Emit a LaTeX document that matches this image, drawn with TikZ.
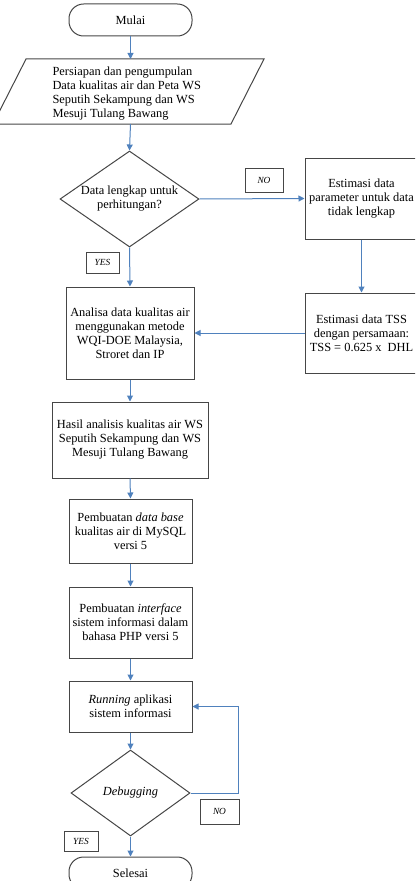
\documentclass[tikz,border=0pt]{standalone}
\usepackage{fontspec}
\setmainfont{Liberation Serif}
\usepackage{tikz}
\usetikzlibrary{shapes.geometric,arrows.meta}
\definecolor{flowblue}{RGB}{79,129,189}
\definecolor{boxgray}{RGB}{70,70,70}
\tikzset{every picture/.style={line width=0.75pt}}
\tikzset{
  boxtext/.style={font=\fontsize{9.3}{10.5}\selectfont, align=center, inner sep=0pt},
  procbox/.style={boxtext, draw=boxgray, rectangle},
  termbox/.style={boxtext, draw=boxgray, rectangle, rounded corners=11pt},
  decbox/.style={boxtext, draw=boxgray, diamond},
  tagbox/.style={draw=boxgray, line width=0.6pt, inner sep=0pt, font=\fontsize{7}{8}\selectfont\itshape},
  flow/.style={draw=flowblue, line width=0.75pt, -{Triangle[length=4.5pt,width=4.5pt]}}
}

\begin{document}
\begin{tikzpicture}[x=0.75pt,y=0.75pt,yscale=-1,xscale=1]
\useasboundingbox (0,0) rectangle (415,881);
\clip (0,0) rectangle (415,881);
%Flowchart: Terminator
\node[termbox, minimum width=92.25pt, minimum height=24pt] (start) at (130.5,20) {Mulai};
%Flowchart: Data
\coordinate (prepNW) at (26,59);
\coordinate (prepNE) at (264,59);
\coordinate (prepSE) at (231,124);
\coordinate (prepSW) at (-7,124);
\draw [boxgray] (prepNW) -- (prepNE) -- (prepSE) -- (prepSW) -- cycle;
% Text Node
\node[boxtext, align=left, anchor=west] (prep) at (52,94) {Persiapan dan pengumpulan\\Data kualitas air dan Peta WS\\Seputih Sekampung dan WS\\Mesuji Tulang Bawang};
%Flowchart: Decision
\node[decbox, aspect=1.45, minimum width=104.25pt, minimum height=72pt] (cek) at (129.5,199) {Data lengkap untuk\\perhitungan?};
%Flowchart: Process
\node[procbox, minimum width=84.75pt, minimum height=60.75pt] (estpar) at (361.5,198.5) {Estimasi data\\parameter untuk data\\tidak lengkap};
\node[procbox, minimum width=84.75pt, minimum height=60pt] (esttss) at (361.5,333) {Estimasi data TSS\\dengan persamaan:\\TSS = 0.625 x\ \ DHL};
\node[procbox, minimum width=96pt, minimum height=69pt] (analisa) at (130,333) {Analisa data kualitas air\\menggunakan metode\\WQI-DOE Malaysia,\\Stroret dan IP};
\node[procbox, minimum width=117pt, minimum height=57pt] (hasil) at (130,440) {Hasil analisis kualitas air WS\\Seputih Sekampung dan WS\\Mesuji Tulang Bawang};
\node[procbox, minimum width=92.25pt, minimum height=48pt] (dbase) at (130.5,531) {Pembuatan \textit{data base}\\kualitas air di MySQL\\versi 5};
\node[procbox, minimum width=92.25pt, minimum height=53.25pt] (iface) at (130.5,622.5) {Pembuatan \textit{interface}\\sistem informasi dalam\\bahasa PHP versi 5};
\node[procbox, minimum width=92.25pt, minimum height=38.25pt] (run) at (130.5,706.5) {\textit{Running} aplikasi\\sistem informasi};
%Flowchart: Decision
\node[decbox, aspect=1.4, minimum width=89.25pt, minimum height=64.5pt] (debug) at (130.5,793) {\textit{Debugging}};
%Flowchart: Terminator
\node[termbox, minimum width=92.25pt, minimum height=24pt] (stop) at (130.5,873) {Selesai};

% Text Node
\node[tagbox, minimum width=28.5pt, minimum height=18pt] (no1) at (264,180) {NO};
\node[tagbox, minimum width=24.75pt, minimum height=15.75pt] (yes1) at (102.5,262.5) {YES};
\node[tagbox, minimum width=29.25pt, minimum height=18.75pt] (no2) at (219.5,811.5) {NO};
\node[tagbox, minimum width=25.5pt, minimum height=15pt] (yes2) at (81,841) {YES};

%Straight Lines
\draw [flow] (start.south) -- (start.south |- prepNW);
\draw [flow] (start.south |- prepSW) -- (cek.north);
\draw [flow] (cek.east) -- (estpar.west);
\draw [flow] (estpar.south) -- (esttss.north);
\draw [flow] (esttss.west) -- (analisa.east);
\draw [flow] (cek.south) -- (analisa.north);
\draw [flow] (analisa.south) -- (hasil.north);
\draw [flow] (hasil.south) -- (dbase.north);
\draw [flow] (dbase.south) -- (iface.north);
\draw [flow] (iface.south) -- (run.north);
\draw [flow] (run.south) -- (debug.north);
\draw [flow] (debug.south) -- (stop.north);
\draw [flow] (debug.east) -- ++(48,0) |- (run.east);
\end{tikzpicture}
\end{document}
